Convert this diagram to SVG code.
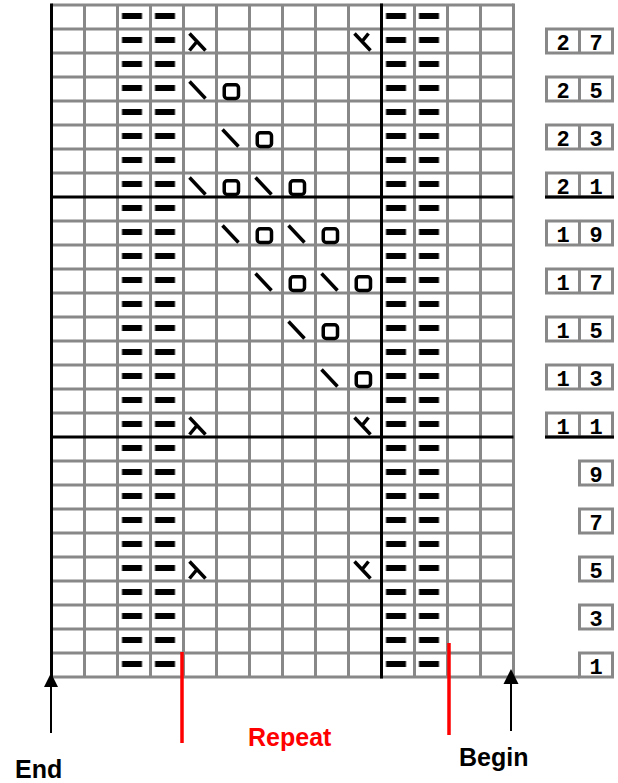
<svg xmlns="http://www.w3.org/2000/svg" xmlns:xlink="http://www.w3.org/1999/xlink" width="618" height="783" viewBox="0 0 618 783">
<style>
.g{fill:none;stroke:#888;stroke-width:3}
.k{fill:none;stroke:#000;stroke-width:3}
.sym{fill:none;stroke:#000;stroke-width:3.5}
.num{font-family:"Liberation Mono","DejaVu Sans Mono",monospace;font-weight:bold;font-size:22px;fill:#000;text-anchor:middle}
.lab{font-family:"Liberation Sans",Arial,sans-serif;font-weight:bold;font-size:25px}
.red{stroke:#f00;stroke-width:3.5}
.arr{stroke:#000;stroke-width:2}
</style>
<defs>
<pattern id="dash" patternUnits="userSpaceOnUse" x="117.5" y="5" width="33" height="24">
<rect x="4.5" y="8" width="20" height="6" fill="#000"/>
</pattern>
<g id="bs"><line class="sym" x1="6" y1="4.5" x2="22" y2="21.5"/></g>
<g id="yo"><rect class="sym" x="7.75" y="7.75" width="14.25" height="13.75" rx="3" stroke-width="3"/></g>
<g id="lam"><path class="sym" d="M6 4.5L22 21.5M13.5 12.5L6 21.5"/></g>
<g id="kk"><path class="sym" d="M6 4.5L22 21.5M13.5 12.5L20 4.5"/></g>
</defs>

<g id="dashes">
<rect x="117.5" y="5" width="66" height="672" fill="url(#dash)"/>
<rect x="381.5" y="5" width="66" height="672" fill="url(#dash)"/>
</g>

<g id="grid">
<path class="g" d="M51.5 5H513.5M51.5 29H513.5M51.5 53H513.5M51.5 77H513.5M51.5 101H513.5M51.5 125H513.5M51.5 149H513.5M51.5 173H513.5M51.5 221H513.5M51.5 245H513.5M51.5 269H513.5M51.5 293H513.5M51.5 317H513.5M51.5 341H513.5M51.5 365H513.5M51.5 389H513.5M51.5 413H513.5M51.5 461H513.5M51.5 485H513.5M51.5 509H513.5M51.5 533H513.5M51.5 557H513.5M51.5 581H513.5M51.5 605H513.5M51.5 629H513.5M51.5 653H513.5M51.5 677H579.5"/>
<path class="g" d="M84.5 5V677M117.5 5V677M150.5 5V677M183.5 5V677M216.5 5V677M249.5 5V677M282.5 5V677M315.5 5V677M348.5 5V677M414.5 5V677M447.5 5V677M480.5 5V677M513.5 3.5V678.5"/>
<path class="k" d="M51.5 3.5V678.5M381.5 3.5V678.5M51.5 197H513.5M51.5 437H513.5"/>
</g>

<g id="row-number-boxes">
<path class="g" d="M546.5 29H612.5V53H546.5ZM579.5 29V53
M546.5 77H612.5V101H546.5ZM579.5 77V101
M546.5 125H612.5V149H546.5ZM579.5 125V149
M546.5 173H612.5V197H546.5ZM579.5 173V197
M546.5 221H612.5V245H546.5ZM579.5 221V245
M546.5 269H612.5V293H546.5ZM579.5 269V293
M546.5 317H612.5V341H546.5ZM579.5 317V341
M546.5 365H612.5V389H546.5ZM579.5 365V389
M546.5 413H612.5V437H546.5ZM579.5 413V437
M579.5 461H612.5V485H579.5Z
M579.5 509H612.5V533H579.5Z
M579.5 557H612.5V581H579.5Z
M579.5 605H612.5V629H579.5Z
M579.5 653H612.5V677H579.5Z"/>
<path class="k" d="M545 197H614M545 437H614"/>
<text class="num" x="563 596" y="50">27</text>
<text class="num" x="563 596" y="98">25</text>
<text class="num" x="563 596" y="146">23</text>
<text class="num" x="563 596" y="194">21</text>
<text class="num" x="563 596" y="242">19</text>
<text class="num" x="563 596" y="290">17</text>
<text class="num" x="563 596" y="338">15</text>
<text class="num" x="563 596" y="386">13</text>
<text class="num" x="563 596" y="434">11</text>
<text class="num" x="596" y="482">9</text>
<text class="num" x="596" y="530">7</text>
<text class="num" x="596" y="578">5</text>
<text class="num" x="596" y="626">3</text>
<text class="num" x="596" y="674">1</text>
</g>

<g id="symbols">
<use xlink:href="#lam" x="183.5" y="29"/><use xlink:href="#kk" x="348.5" y="29"/>
<use xlink:href="#bs" x="183.5" y="77"/><use xlink:href="#yo" x="216.5" y="77"/>
<use xlink:href="#bs" x="216.5" y="125"/><use xlink:href="#yo" x="249.5" y="125"/>
<use xlink:href="#bs" x="183.5" y="173"/><use xlink:href="#yo" x="216.5" y="173"/><use xlink:href="#bs" x="249.5" y="173"/><use xlink:href="#yo" x="282.5" y="173"/>
<use xlink:href="#bs" x="216.5" y="221"/><use xlink:href="#yo" x="249.5" y="221"/><use xlink:href="#bs" x="282.5" y="221"/><use xlink:href="#yo" x="315.5" y="221"/>
<use xlink:href="#bs" x="249.5" y="269"/><use xlink:href="#yo" x="282.5" y="269"/><use xlink:href="#bs" x="315.5" y="269"/><use xlink:href="#yo" x="348.5" y="269"/>
<use xlink:href="#bs" x="282.5" y="317"/><use xlink:href="#yo" x="315.5" y="317"/>
<use xlink:href="#bs" x="315.5" y="365"/><use xlink:href="#yo" x="348.5" y="365"/>
<use xlink:href="#lam" x="183.5" y="413"/><use xlink:href="#kk" x="348.5" y="413"/>
<use xlink:href="#lam" x="183.5" y="557"/><use xlink:href="#kk" x="348.5" y="557"/>
</g>

<g id="connectors">
<line class="red" x1="182" y1="652" x2="182" y2="743"/>
<line class="red" x1="449" y1="643" x2="449" y2="735"/>
<line class="arr" x1="51" y1="733" x2="51" y2="685"/>
<polygon points="51,673 44,687 58,687" fill="#000"/>
<line class="arr" x1="511" y1="731" x2="511" y2="683"/>
<polygon points="511,669 503.5,684 518.5,684" fill="#000"/>
</g>

<g id="labels">
<text class="lab" x="15" y="778" fill="#000">End</text>
<text class="lab" x="459" y="766" fill="#000" font-size="26">Begin</text>
<text class="lab" x="248" y="746" fill="#f00" font-size="26">Repeat</text>
</g>
</svg>
